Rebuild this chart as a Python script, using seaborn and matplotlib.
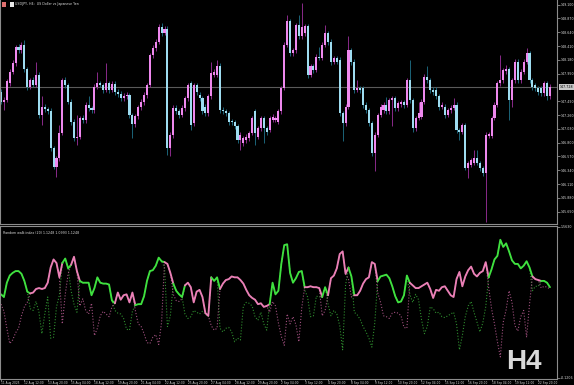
import matplotlib
matplotlib.use("Agg")
import matplotlib.pyplot as plt
from matplotlib.patches import Rectangle
import numpy as np
import pandas as pd
import seaborn as sns

# ---------------- data (USDJPY H4 candles) ----------------
opens = [147.65, 147.48, 147.51, 147.79, 147.98, 148.12, 148.40, 148.34, 148.43, 148.02,
         147.73, 147.84, 147.76, 147.93, 147.26, 147.40, 147.36, 147.33, 146.71, 146.40,
         146.54, 146.96, 147.84, 147.76, 147.48, 147.15, 146.87, 146.90, 147.21, 147.17,
         147.43, 147.37, 147.34, 147.73, 147.79, 147.76, 147.68, 147.79, 147.68, 147.78,
         147.65, 147.61, 147.54, 147.58, 147.59, 147.26, 147.11, 147.24, 147.39, 147.48,
         147.59, 147.76, 148.26, 148.38, 148.48, 148.73, 148.63, 148.69, 146.71, 146.93,
         147.37, 147.32, 147.26, 147.37, 147.54, 147.79, 147.12, 147.76, 147.59, 147.54,
         147.40, 147.29, 147.57, 147.93, 147.93, 148.07, 147.35, 147.32, 147.29, 147.16,
         147.14, 147.07, 146.84, 146.79, 146.84, 146.87, 146.96, 147.32, 146.90, 147.04,
         147.21, 147.04, 147.01, 147.18, 147.18, 147.15, 147.32, 147.71, 148.43, 148.82,
         148.29, 148.34, 148.76, 148.57, 148.62, 148.74, 147.93, 148.07, 148.01, 148.23,
         148.21, 148.43, 148.62, 148.48, 148.15, 148.21, 148.18, 147.29, 147.12, 147.40,
         148.34, 148.15, 147.68, 147.71, 147.71, 147.43, 147.34, 147.12, 146.62, 146.93,
         147.26, 147.34, 147.43, 147.32, 147.51, 147.54, 147.37, 147.44, 147.47, 147.43,
         147.84, 147.51, 147.04, 147.21, 147.23, 147.48, 147.90, 147.84, 147.68, 147.68,
         147.57, 147.40, 147.40, 147.26, 147.34, 147.38, 147.43, 147.01, 146.98, 147.09,
         146.37, 146.43, 146.46, 146.54, 146.46, 146.37, 146.29, 146.91, 146.91, 147.21,
         147.43, 147.79, 147.84, 147.99, 148.02, 147.51, 147.84, 148.15, 147.84, 147.98,
         148.15, 148.29, 147.84, 147.76, 147.71, 147.71, 147.62, 147.79, 147.57]

highs = [147.70, 147.56, 147.86, 148.03, 148.17, 148.43, 148.45, 148.48, 148.51, 148.06,
         147.88, 147.89, 148.15, 147.98, 147.57, 147.45, 147.40, 147.38, 146.75, 146.58,
         147.10, 147.88, 147.89, 147.80, 147.52, 147.19, 147.26, 147.25, 147.26, 147.47,
         147.57, 147.41, 147.77, 147.98, 147.83, 147.80, 148.12, 147.83, 147.82, 147.82,
         147.70, 147.66, 147.63, 147.64, 147.63, 147.30, 147.28, 147.43, 147.52, 147.64,
         147.80, 148.30, 148.43, 148.53, 148.78, 148.80, 148.74, 148.74, 146.98, 147.42,
         147.42, 147.36, 147.42, 147.58, 147.80, 147.83, 147.80, 147.80, 147.64, 147.58,
         147.44, 147.61, 148.15, 148.02, 148.18, 148.12, 147.39, 147.36, 147.33, 147.20,
         147.18, 147.11, 146.97, 146.91, 146.94, 147.00, 147.25, 147.36, 147.08, 147.25,
         147.25, 147.08, 147.25, 147.27, 147.25, 147.36, 147.75, 148.47, 148.93, 148.86,
         148.38, 148.80, 148.93, 149.12, 148.78, 148.78, 148.11, 148.11, 148.27, 148.40,
         148.47, 148.76, 148.66, 148.52, 148.25, 148.25, 148.22, 147.33, 147.44, 148.57,
         148.38, 148.19, 147.84, 147.75, 147.75, 147.47, 147.38, 147.16, 146.97, 147.30,
         147.44, 147.47, 147.56, 147.55, 147.58, 147.58, 147.50, 147.51, 147.51, 147.88,
         148.18, 147.55, 147.25, 147.48, 147.52, 147.94, 148.07, 147.88, 147.72, 147.72,
         147.61, 147.47, 147.44, 147.38, 147.42, 147.54, 147.47, 147.05, 147.13, 147.13,
         146.50, 146.55, 146.68, 146.68, 146.50, 146.41, 146.97, 146.98, 147.25, 147.47,
         147.83, 148.26, 148.05, 148.09, 148.06, 147.88, 148.19, 148.19, 148.02, 148.19,
         148.37, 148.33, 147.88, 147.80, 147.75, 147.75, 147.83, 147.83, 147.77]

lows = [147.44, 147.35, 147.47, 147.75, 147.94, 148.08, 148.30, 148.30, 147.98, 147.68,
        147.69, 147.72, 147.72, 147.21, 147.10, 147.31, 147.28, 146.66, 146.36, 146.23,
        146.50, 146.92, 147.71, 147.44, 147.10, 146.83, 146.76, 146.86, 147.12, 147.13,
        147.33, 147.29, 147.30, 147.69, 147.72, 147.63, 147.64, 147.63, 147.64, 147.60,
        147.56, 147.49, 147.49, 147.53, 147.21, 146.87, 147.06, 147.19, 147.34, 147.43,
        147.54, 147.72, 148.21, 148.33, 148.44, 148.58, 148.59, 146.60, 146.57, 146.88,
        147.27, 147.21, 147.22, 147.33, 147.50, 147.01, 147.07, 147.60, 147.49, 147.27,
        147.24, 147.25, 147.53, 147.89, 147.89, 147.30, 147.27, 147.24, 147.10, 147.09,
        147.02, 146.79, 146.68, 146.75, 146.80, 146.83, 146.92, 146.76, 146.86, 147.00,
        146.80, 146.93, 146.97, 147.14, 147.14, 147.11, 147.28, 147.67, 148.39, 148.24,
        148.25, 148.30, 148.53, 148.53, 148.58, 147.88, 147.89, 147.96, 147.97, 148.17,
        148.17, 148.39, 148.43, 148.10, 148.11, 148.11, 147.24, 146.82, 147.08, 147.36,
        148.10, 147.63, 147.64, 147.63, 147.38, 147.29, 147.07, 146.57, 146.32, 146.89,
        147.22, 147.30, 147.27, 147.28, 147.07, 147.32, 147.33, 147.40, 147.38, 147.39,
        147.46, 146.98, 147.00, 147.17, 147.19, 147.44, 147.80, 147.63, 147.60, 147.52,
        147.35, 147.36, 147.21, 147.22, 147.30, 147.34, 146.96, 146.84, 146.94, 146.34,
        146.21, 146.39, 146.42, 146.42, 146.33, 146.24, 145.48, 146.87, 146.87, 147.17,
        147.39, 147.75, 147.80, 147.95, 147.18, 147.40, 147.80, 147.79, 147.80, 147.94,
        148.11, 147.79, 147.68, 147.66, 147.60, 147.57, 147.58, 147.51, 147.53]

closes = [147.48, 147.51, 147.82, 147.98, 148.12, 148.40, 148.34, 148.43, 148.02, 147.73,
          147.84, 147.76, 147.93, 147.26, 147.40, 147.36, 147.33, 146.71, 146.40, 146.54,
          146.96, 147.84, 147.76, 147.48, 147.15, 146.87, 146.90, 147.21, 147.17, 147.43,
          147.37, 147.34, 147.73, 147.79, 147.76, 147.68, 147.79, 147.68, 147.78, 147.65,
          147.61, 147.54, 147.58, 147.59, 147.26, 147.11, 147.24, 147.39, 147.48, 147.59,
          147.76, 148.26, 148.38, 148.48, 148.73, 148.63, 148.69, 146.71, 146.93, 147.37,
          147.32, 147.26, 147.37, 147.54, 147.76, 147.09, 147.76, 147.65, 147.54, 147.32,
          147.29, 147.57, 147.96, 147.97, 148.07, 147.34, 147.32, 147.29, 147.15, 147.14,
          147.07, 146.84, 146.93, 146.87, 146.90, 146.96, 147.21, 146.96, 147.04, 147.21,
          147.04, 146.98, 147.21, 147.23, 147.21, 147.32, 147.71, 148.43, 148.82, 148.29,
          148.34, 148.76, 148.57, 148.73, 148.74, 147.93, 148.07, 148.01, 148.23, 148.21,
          148.43, 148.62, 148.48, 148.15, 148.21, 148.15, 147.29, 147.12, 147.40, 148.34,
          148.15, 147.68, 147.71, 147.68, 147.43, 147.34, 147.12, 146.62, 146.93, 147.26,
          147.40, 147.43, 147.32, 147.51, 147.54, 147.37, 147.46, 147.47, 147.43, 147.84,
          147.51, 147.04, 147.21, 147.29, 147.48, 147.90, 147.84, 147.68, 147.65, 147.57,
          147.40, 147.43, 147.26, 147.34, 147.38, 147.43, 147.01, 146.98, 147.09, 146.37,
          146.46, 146.51, 146.54, 146.46, 146.37, 146.29, 146.93, 146.94, 147.21, 147.43,
          147.79, 147.84, 148.01, 148.02, 147.51, 147.84, 148.15, 147.84, 147.98, 148.15,
          148.29, 147.84, 147.73, 147.71, 147.65, 147.62, 147.79, 147.57, 147.728]

# ---------------- Random Walk Index (20) ----------------
rwi_high = [0.81, 0.78, 0.94, 1.02, 1.05, 1.07, 1.07, 1.04, 0.96, 0.84,
            0.65, 0.63, 0.73, 0.61, 0.37, 0.59, 0.78, 0.32, 0.33, 0.67,
            0.80, 1.16, 1.21, 1.10, 0.85, 0.70, 0.61, 0.96, 0.94, 0.94,
            0.94, 0.80, 0.88, 1.00, 0.94, 0.93, 0.93, 0.92, 0.74, 0.63,
            0.60, 0.59, 0.54, 0.42, 0.41, 0.62, 0.69, 0.70, 0.70, 0.79,
            0.96, 1.07, 1.08, 1.13, 1.22, 1.18, 1.11, 0.45, 0.57, 0.93,
            0.85, 0.81, 0.78, 0.59, 0.54, 0.56, 0.63, 0.61, 0.59, 0.62,
            0.59, 0.56, 1.00, 0.96, 1.00, 0.43, 0.39, 0.43, 0.44, 0.39,
            0.28, 0.32, 0.30, 0.68, 0.72, 0.71, 0.68, 0.56, 0.52, 0.61,
            0.48, 0.41, 0.70, 0.94, 0.81, 0.85, 1.15, 1.36, 1.37, 1.05,
            0.94, 0.99, 1.06, 1.07, 0.86, 0.78, 0.56, 0.57, 0.79, 0.78,
            0.78, 0.89, 0.70, 0.57, 0.63, 0.59, 0.46, 0.19, 0.91, 1.11,
            1.01, 0.61, 0.58, 0.53, 0.45, 0.39, 0.32, 0.22, 0.49, 0.96,
            1.01, 1.02, 1.03, 0.99, 0.90, 0.79, 0.72, 0.73, 0.80, 1.02,
            0.81, 0.72, 0.81, 0.75, 0.53, 0.37, 0.45, 0.67, 0.65, 0.60,
            0.61, 0.56, 0.55, 0.57, 0.59, 0.61, 0.48, 0.19, 0.35, 0.56,
            0.68, 0.73, 0.61, 0.50, 0.39, 0.49, 0.67, 1.00, 1.09, 1.20,
            1.24, 1.42, 1.34, 1.38, 1.29, 1.19, 1.15, 1.15, 1.10, 1.13,
            1.18, 1.11, 0.85, 0.90, 0.90, 0.96, 0.96, 0.94, 0.89]

rwi_low = [0.70, 0.62, 0.43, 0.26, 0.30, 0.38, 0.43, 0.57, 0.67, 0.72,
           0.82, 0.83, 0.87, 0.88, 0.87, 0.88, 0.94, 1.11, 1.20, 1.16,
           1.00, 0.48, 0.81, 1.04, 1.14, 1.23, 1.07, 0.68, 0.76, 0.63,
           0.59, 0.71, 0.35, 0.43, 0.57, 0.62, 0.59, 0.56, 0.67, 0.71,
           0.83, 0.75, 0.80, 0.81, 0.72, 0.83, 0.63, 0.48, 0.45, 0.37,
           0.27, 0.26, 0.33, 0.36, 0.25, 0.50, 1.17, 1.15, 1.05, 0.81,
           0.74, 0.73, 0.76, 0.91, 0.94, 0.89, 0.72, 0.84, 0.86, 0.78,
           0.60, 0.57, 0.46, 0.41, 0.43, 0.87, 0.93, 0.97, 0.98, 1.01,
           1.00, 1.00, 0.97, 0.93, 0.86, 0.80, 0.77, 0.75, 0.70, 0.71,
           0.67, 0.68, 0.61, 0.73, 0.68, 0.49, 0.34, 0.24, 0.59, 0.48,
           0.56, 0.47, 0.28, 0.66, 0.89, 0.89, 0.90, 0.89, 0.89, 0.88,
           0.57, 0.63, 0.80, 0.99, 1.02, 1.10, 1.26, 1.29, 1.04, 0.98,
           0.78, 0.80, 0.80, 0.85, 0.93, 0.98, 1.00, 1.17, 1.15, 0.83,
           0.72, 0.57, 0.56, 0.54, 0.60, 0.61, 0.60, 0.57, 0.44, 0.43,
           0.94, 0.91, 0.88, 0.88, 0.90, 0.92, 0.94, 0.87, 0.77, 0.86,
           0.85, 0.89, 0.90, 0.85, 0.80, 0.78, 0.98, 1.06, 0.90, 1.01,
           1.08, 1.12, 1.04, 1.01, 1.05, 1.07, 1.17, 0.89, 0.65, 0.48,
           0.28, 0.11, 0.50, 0.64, 0.85, 0.72, 0.46, 0.40, 0.56, 0.63,
           0.33, 0.70, 1.01, 0.98, 0.97, 0.88, 0.90, 0.89, 0.87]

price_ticks = [149.10, 148.87, 148.64, 148.41, 148.18, 147.95, 147.49, 147.26,
               147.03, 146.80, 146.57, 146.34, 146.11, 145.88, 145.65]
price_labels = ["149.100", "148.870", "148.640", "148.410", "148.180", "147.950", "147.490",
                "147.260", "147.030", "146.800", "146.570", "146.340", "146.110", "145.880", "145.650"]
current_price = 147.728
current_label = "147.728"

rwi_ticks = [1.563, -0.1206]
rwi_labels = ["1.5630", "-0.1206"]

time_positions = [0, 8, 16, 24, 32, 40, 48, 56, 64, 72, 80, 88, 96, 104, 112, 120,
                  128, 136, 144, 152, 160, 168, 176, 184]
time_labels = ["11 Aug 2025", "12 Aug 12:00", "13 Aug 20:00", "15 Aug 04:00", "18 Aug 12:00",
               "19 Aug 20:00", "21 Aug 04:00", "22 Aug 12:00", "25 Aug 20:00", "27 Aug 04:00",
               "28 Aug 12:00", "29 Aug 20:00", "2 Sep 04:00", "3 Sep 12:00", "4 Sep 20:00",
               "8 Sep 04:00", "9 Sep 12:00", "10 Sep 20:00", "12 Sep 04:00", "15 Sep 12:00",
               "16 Sep 20:00", "18 Sep 04:00", "19 Sep 12:00", "22 Sep 20:00"]

title_text = "USDJPY, H4:  US Dollar vs Japanese Yen"
ind_title = "Random walk index (20) 1.1248 1.0993 1.1248"
tf_text = "H4"

# ---------------- styling ----------------
W, H = 574, 385
sns.set_theme(style="dark")
plt.rcParams['font.family'] = ['DejaVu Sans']

GRID = '#8c8c8c'
TXT = '#dcdcdc'
FS = 2.3

fig = plt.figure(figsize=(W / 100, H / 100), dpi=100, facecolor='black')


def fx(px):
    return px / W


def fy(py):
    return 1 - py / H


ax1 = fig.add_axes([0, fy(224), fx(557), 224 / H])
ax2 = fig.add_axes([0, fy(378.5), fx(557), (378.5 - 226) / H])

for ax in (ax1, ax2):
    ax.set_facecolor('black')
    ax.grid(False)
    for s in ax.spines.values():
        s.set_color(GRID)
        s.set_linewidth(0.8)
ax1.spines['top'].set_visible(False)

n = len(closes)
xs = np.arange(n)
xlim = (-1 / 2.92, 556 / 2.92)

# ---------------- candles ----------------
df = pd.DataFrame(dict(x=xs, open=opens, high=highs, low=lows, close=closes))
up = df['close'] >= df['open']
dn = ~up
ax1.axhline(current_price, color='#5a5a5a', lw=0.8, zorder=0.5)
ax1.vlines(df['x'][up], df['low'][up], df['high'][up], color='#8a2a8a', lw=0.7, zorder=1)
ax1.vlines(df['x'][dn], df['low'][dn], df['high'][dn], color='#1b6478', lw=0.7, zorder=1)
body_h = (df['close'] - df['open']).abs().clip(lower=0.012)
body_b = np.minimum(df['open'], df['close'])
ax1.bar(df['x'][up], body_h[up], bottom=body_b[up], width=0.7, color='#ee88ee', linewidth=0, zorder=2)
ax1.bar(df['x'][dn], body_h[dn], bottom=body_b[dn], width=0.7, color='#9edcf0', linewidth=0, zorder=2)
ax1.set_xlim(*xlim)
ax1.set_ylim(145.445, 149.178)
ax1.set_xticks([])
ax1.yaxis.tick_right()
ax1.set_yticks(price_ticks)
ax1.set_yticklabels(price_labels)
ax1.tick_params(axis='y', which='both', right=True, left=False, length=2, width=0.6,
                color=GRID, labelsize=FS, labelcolor=TXT, pad=1)
ax1.set_xlabel('')
ax1.set_ylabel('')
ax1.annotate(current_label, xy=(1, current_price), xycoords=('axes fraction', 'data'),
             xytext=(2, 0), textcoords='offset points', va='center', ha='left',
             fontsize=FS, color='black', annotation_clip=False,
             bbox=dict(boxstyle='square,pad=0.35', fc='#c8c8c8', ec='none'))

# ---------------- RWI panel ----------------
ind = pd.DataFrame(dict(x=xs, hi=rwi_high, lo=rwi_low))
sns.lineplot(data=ind, x='x', y='hi', ax=ax2, color='#2f8f2f', lw=0.8, linestyle=':',
             estimator=None, legend=False)
sns.lineplot(data=ind, x='x', y='lo', ax=ax2, color='#a0507f', lw=0.8, linestyle=':',
             estimator=None, legend=False)
dom = (ind['hi'] >= ind['lo']).to_numpy()
top = np.maximum(ind['hi'], ind['lo']).to_numpy()
start = 0
for i in range(1, n + 1):
    if i == n or dom[i] != dom[start]:
        seg = slice(start, min(i + 1, n))
        sns.lineplot(x=xs[seg], y=top[seg], ax=ax2,
                     color='#3fe03f' if dom[start] else '#ea80b6', lw=1.35,
                     estimator=None, sort=False, legend=False)
        start = i
ax2.set_xlim(*xlim)
ax2.set_ylim(-0.131, 1.574)
ax2.yaxis.tick_right()
ax2.set_yticks(rwi_ticks)
ax2.set_yticklabels(rwi_labels)
ax2.tick_params(axis='y', which='both', right=True, left=False, length=2, width=0.6,
                color=GRID, labelsize=FS, labelcolor=TXT, pad=1)
ax2.set_xticks(time_positions)
ax2.set_xticklabels(time_labels)
ax2.tick_params(axis='x', which='both', bottom=True, length=1.3, width=0.6, color=GRID,
                labelsize=2.1, labelcolor=TXT, pad=0.2)
for lbl in ax2.get_xticklabels():
    lbl.set_horizontalalignment('left')
ax2.set_xlabel('')
ax2.set_ylabel('')

# ---------------- texts ----------------
fig.patches.append(Rectangle((fx(1.5), fy(6.5)), 4 / W, 4.5 / H, transform=fig.transFigure,
                             fc='#e07070', ec='none'))
fig.patches.append(Rectangle((fx(9.5), fy(6.5)), 4 / W, 4.5 / H, transform=fig.transFigure,
                             fc='#e8e8e8', ec='none'))
fig.text(fx(15), fy(4.3), title_text, fontsize=FS, color=TXT, va='center', ha='left')
fig.text(fx(3), fy(232.5), ind_title, fontsize=FS, color=TXT, va='center', ha='left')
fig.text(fx(506), fy(369), tf_text, fontsize=20, fontweight='bold', family='Liberation Sans',
         color='#d9d9d9', va='baseline', ha='left')

fig.savefig('out.png', dpi=100, facecolor='black')
